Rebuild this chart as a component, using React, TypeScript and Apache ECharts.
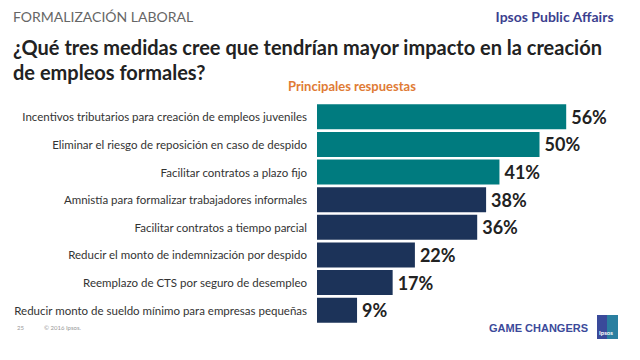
import React, { useEffect, useRef } from "react";
import * as echarts from "echarts";

const categories = [
  "Incentivos tributarios para creación de empleos juveniles",
  "Eliminar el riesgo de reposición en caso de despido",
  "Facilitar contratos a plazo fijo",
  "Amnistía para formalizar trabajadores informales",
  "Facilitar contratos a tiempo parcial",
  "Reducir el monto de indemnización por despido",
  "Reemplazo de CTS por seguro de desempleo",
  "Reducir monto de sueldo mínimo para empresas pequeñas",
];
const values = [56, 50, 41, 38, 36, 22, 17, 9];
const highlighted = [true, true, true, false, false, false, false, false];

const TEAL = "#007b7f";
const NAVY = "#1c3359";
const FONT = "Lato, 'Open Sans', sans-serif";

export default function App() {
  const ref = useRef<HTMLDivElement>(null);
  useEffect(() => {
    if (!ref.current) return;
    const chart = echarts.init(ref.current, null, { renderer: "svg" });
    chart.setOption({
      animation: false,
      backgroundColor: "#ffffff",
      textStyle: { fontFamily: FONT },
      grid: { left: 317, top: 103, width: 311.5, height: 221, containLabel: false },
      xAxis: { type: "value", min: 0, max: 70, show: false },
      yAxis: {
        type: "category",
        data: categories,
        inverse: true,
        axisLine: { show: false },
        axisTick: { show: false },
        axisLabel: { color: "#333333", fontSize: 11.5, margin: 10, fontFamily: FONT },
      },
      series: [
        {
          type: "bar",
          barWidth: 25,
          data: values.map((v, i) => ({
            value: v,
            itemStyle: { color: highlighted[i] ? TEAL : NAVY },
          })),
          label: {
            show: true,
            position: "right",
            distance: 5,
            formatter: "{c}%",
            color: "#222222",
            fontSize: 18,
            fontWeight: "bold",
            fontFamily: FONT,
          },
        },
      ],
      graphic: [
        { type: "text", left: 13, top: 9, style: { text: "FORMALIZACIÓN LABORAL", fill: "#666666", fontSize: 14, fontFamily: FONT } },
        { type: "text", right: 26, top: 9, style: { text: "Ipsos Public Affairs", fill: "#3b3f8f", fontSize: 14, fontWeight: "bold", fontFamily: FONT } },
        { type: "text", left: 13, top: 34, style: { text: "¿Qué tres medidas cree que tendrían mayor impacto en la creación\nde empleos formales?", fill: "#222222", fontSize: 20, fontWeight: "bold", lineHeight: 25, fontFamily: FONT } },
        { type: "text", left: 288, top: 79, style: { text: "Principales respuestas", fill: "#e07b35", fontSize: 13, fontWeight: "bold", fontFamily: FONT } },
        { type: "text", left: 17, top: 324, style: { text: "25", fill: "#999999", fontSize: 6, fontFamily: FONT } },
        { type: "text", left: 44, top: 324, style: { text: "© 2016 Ipsos.", fill: "#999999", fontSize: 6, fontFamily: FONT } },
        { type: "text", left: 489, top: 322, style: { text: "GAME CHANGERS", fill: "#3b4a9a", fontSize: 11, fontWeight: "bold", fontFamily: "'Liberation Sans', Arial, sans-serif" } },
        { type: "rect", left: 597, top: 315, shape: { width: 21, height: 24 }, style: { fill: "#2a7fa0" } },
        { type: "rect", left: 597, top: 315, shape: { width: 10, height: 24 }, style: { fill: "#3a4a9a" } },
        { type: "text", left: 599, top: 329, style: { text: "Ipsos", fill: "#ffffff", fontSize: 6, fontWeight: "bold", fontFamily: FONT } },
      ],
    });
    return () => chart.dispose();
  }, []);
  return <div ref={ref} style={{ width: 640, height: 360, position: "absolute", left: 0, top: 0 }} />;
}
